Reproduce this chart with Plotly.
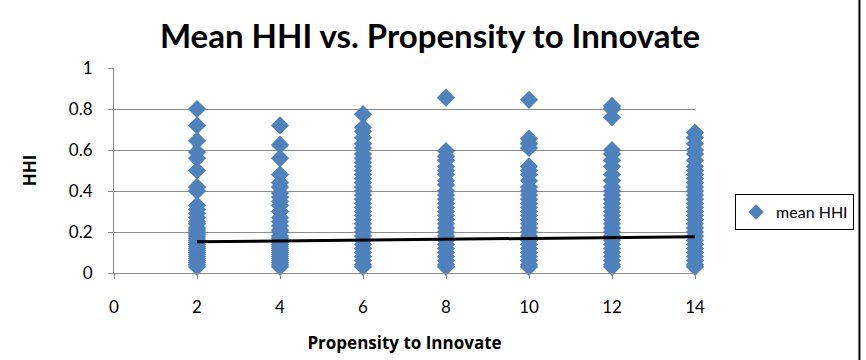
import plotly.graph_objects as go

# HHI values read per propensity category
hhi_2 = [0.80, 0.72, 0.645, 0.59, 0.56, 0.50, 0.42, 0.40, 0.33, 0.31, 0.29, 0.27, 0.25, 0.24,
         0.22, 0.21, 0.20, 0.19, 0.18, 0.17, 0.16, 0.15, 0.14, 0.13, 0.12, 0.11, 0.10, 0.09,
         0.08, 0.07, 0.06, 0.05, 0.04, 0.03]
hhi_4 = [0.72, 0.625, 0.56, 0.48, 0.44, 0.42, 0.39, 0.37, 0.35, 0.33, 0.30, 0.27, 0.25, 0.23,
         0.21, 0.20, 0.18, 0.17, 0.16, 0.15, 0.14, 0.13, 0.12, 0.11, 0.10, 0.09, 0.08, 0.07,
         0.06, 0.05, 0.04, 0.03]
hhi_6 = [0.775, 0.71, 0.69, 0.66, 0.63, 0.61, 0.58, 0.56, 0.54, 0.52, 0.50, 0.48, 0.46, 0.44,
         0.42, 0.40, 0.38, 0.36, 0.34, 0.32, 0.30, 0.28, 0.26, 0.24, 0.22, 0.20, 0.18, 0.16,
         0.14, 0.12, 0.10, 0.08, 0.06, 0.04, 0.03]
hhi_8 = [0.855, 0.595, 0.57, 0.55, 0.52, 0.50, 0.48, 0.45, 0.43, 0.40, 0.38, 0.36, 0.34, 0.32,
         0.30, 0.28, 0.26, 0.24, 0.22, 0.20, 0.18, 0.16, 0.14, 0.12, 0.10, 0.08, 0.06, 0.04, 0.03]
hhi_10 = [0.845, 0.655, 0.63, 0.61, 0.52, 0.50, 0.48, 0.45, 0.42, 0.40, 0.38, 0.36, 0.34, 0.32,
          0.30, 0.28, 0.26, 0.24, 0.22, 0.20, 0.18, 0.16, 0.14, 0.12, 0.10, 0.08, 0.06, 0.04, 0.03]
hhi_12 = [0.815, 0.80, 0.76, 0.60, 0.58, 0.55, 0.52, 0.48, 0.45, 0.42, 0.40, 0.38, 0.36, 0.34,
          0.32, 0.30, 0.28, 0.26, 0.24, 0.22, 0.20, 0.18, 0.16, 0.14, 0.12, 0.10, 0.08, 0.06,
          0.04, 0.03]
hhi_14 = [0.685, 0.66, 0.63, 0.60, 0.58, 0.55, 0.52, 0.50, 0.48, 0.46, 0.44, 0.42, 0.40, 0.38,
          0.36, 0.34, 0.32, 0.30, 0.28, 0.26, 0.24, 0.22, 0.20, 0.18, 0.16, 0.14, 0.12, 0.10,
          0.08, 0.06, 0.04, 0.03]

categories = [2, 4, 6, 8, 10, 12, 14]
series = [hhi_2, hhi_4, hhi_6, hhi_8, hhi_10, hhi_12, hhi_14]

trend_x = [2, 14]
trend_y = [0.152, 0.177]

x_ticks = [0, 2, 4, 6, 8, 10, 12, 14]
y_ticks = [0, 0.2, 0.4, 0.6, 0.8, 1]
y_ticklabels = ["0", "0.2", "0.4", "0.6", "0.8", "1"]

xs, ys = [], []
for c, vals in zip(categories, series):
    xs.extend([c] * len(vals))
    ys.extend(vals)

fig = go.Figure()
fig.add_trace(go.Scatter(
    x=xs, y=ys, mode="markers", name="mean HHI",
    marker=dict(symbol="diamond", size=14, color="#4F81BD"),
    cliponaxis=False,
))
fig.add_trace(go.Scatter(
    x=trend_x, y=trend_y, mode="lines", showlegend=False,
    line=dict(color="black", width=3),
))

font_family = "Lato, 'Open Sans', sans-serif"
grid_col = "#8c8c8c"

fig.update_layout(
    width=866, height=360,
    margin=dict(l=114, r=169, t=68, b=87),
    paper_bgcolor="white", plot_bgcolor="white",
    font=dict(family=font_family, color="black", size=17),
    title=dict(text="<b>Mean HHI vs. Propensity to Innovate</b>",
               x=(157 + 703) / 2 / 866, xanchor="center",
               y=1 - 36 / 360, yanchor="middle",
               font=dict(size=33, family=font_family, color="black")),
    showlegend=True,
    legend=dict(x=1.069, y=0.385, xanchor="left", yanchor="top",
                bordercolor="black", borderwidth=1, bgcolor="white",
                font=dict(size=16, family=font_family), itemsizing="constant"),
    xaxis=dict(range=[0, 14], tickvals=x_ticks, showgrid=False, zeroline=False,
               showline=True, linecolor=grid_col, linewidth=1,
               ticks="outside", ticklen=5, tickcolor=grid_col,
               tickfont=dict(size=17), ticklabelstandoff=14,
               title=dict(text="<b>Propensity to Innovate</b>",
                          font=dict(size=17, family="'Open Sans', sans-serif"), standoff=20)),
    yaxis=dict(range=[0, 1], tickvals=y_ticks, ticktext=y_ticklabels,
               showgrid=True, gridcolor=grid_col, gridwidth=1, zeroline=False,
               showline=True, linecolor=grid_col, linewidth=1,
               ticks="outside", ticklen=5, tickcolor=grid_col,
               tickfont=dict(size=17), ticklabelstandoff=12,
               title=dict(text="<b>HHI</b>",
                          font=dict(size=17, family="'Open Sans', sans-serif"), standoff=27)),
    shapes=[dict(type="line", xref="paper", yref="paper",
                 x0=(862 - 114) / 583, x1=(862 - 114) / 583, y0=-0.5, y1=1.5,
                 line=dict(color="black", width=2))],
)

fig.write_html("out.html")
